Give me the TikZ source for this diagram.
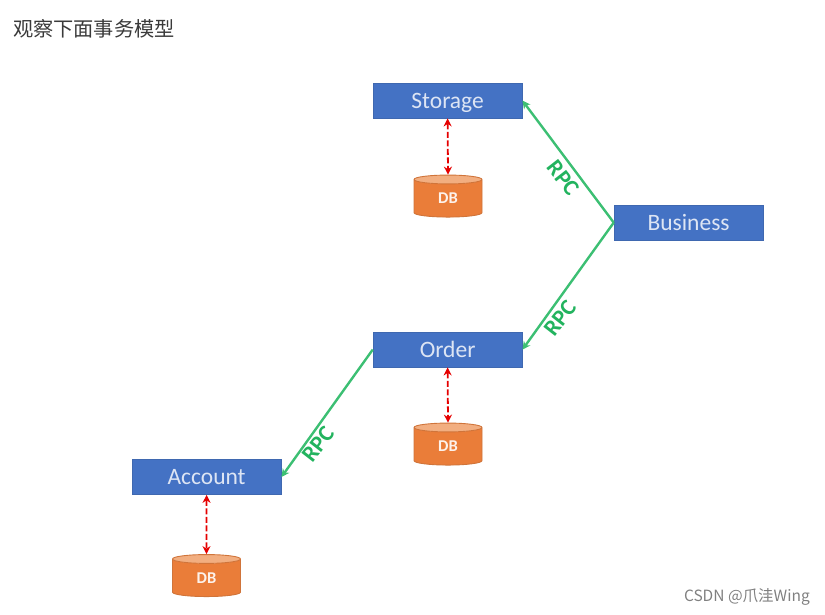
\documentclass[tikz,border=0pt]{standalone}
\usepackage{fontspec}
\setmainfont{Carlito}
\newfontfamily\cjk{Noto Sans CJK SC}
\usetikzlibrary{shapes.geometric,arrows.meta}
\definecolor{boxblue}{HTML}{4472C4}
\definecolor{boxedge}{HTML}{3F68B0}
\definecolor{dborange}{HTML}{EA7D39}
\definecolor{dbtop}{HTML}{F2AE80}
\definecolor{dbedge}{HTML}{D0743A}
\definecolor{rpcgreen}{HTML}{3CBF73}
\definecolor{rpctext}{HTML}{22B35E}
\definecolor{titlegray}{HTML}{3A3A3A}
\tikzset{
  svc/.style={rectangle,draw=boxedge,line width=0.7pt,fill=boxblue,minimum width=149pt,minimum height=35pt,inner sep=0pt,text height=15pt,text depth=0pt,text=white!82!boxblue,font=\fontsize{23.5}{25}\selectfont},
  db/.style={cylinder,shape border rotate=90,aspect=0.45,draw=dbedge,line width=0.9pt,cylinder uses custom fill,cylinder body fill=dborange,cylinder end fill=dbtop,minimum width=68pt,minimum height=42pt,inner sep=0pt,text=white!90!dborange,font=\bfseries\fontsize{16.5}{18}\selectfont},
  rpc/.style={draw=rpcgreen,line width=2.4pt,-{Stealth[length=8pt,width=8pt]}},
  store/.style={draw=red!90!black,line width=1.8pt,dash pattern=on 6pt off 2.5pt,{Stealth[length=8pt,width=8pt]}-{Stealth[length=8pt,width=8pt]}},
  rpclabel/.style={inner sep=0pt,text=rpctext,font=\bfseries\fontsize{23}{25}\selectfont},
}
\begin{document}
\begin{tikzpicture}[x=1pt,y=-1pt]
\useasboundingbox (0,0) rectangle (825,615);
\node[anchor=west,inner sep=0pt,text=titlegray,font=\cjk\fontsize{20.2}{22}\selectfont] (title) at (13,29) {观察下面事务模型};
\node[svc] (storage) at (447.6,100.6) {Storage};
\node[svc] (business) at (688.6,222.6) {Business};
\node[svc] (order) at (447.6,349.6) {Order};
\node[svc] (account) at (206.6,477) {Account};
\node[db] (db1) at (448,198.5) {DB};
\node[db] (db2) at (448,446.5) {DB};
\node[db] (db3) at (206.5,578) {DB};
\draw[rpc] (business.west) -- (storage.east);
\draw[rpc] (business.west) -- (order.east);
\draw[rpc] (order.west) -- (account.east);
\draw[store] (storage.south) -- (db1.north);
\draw[store] (order.south) -- (db2.north);
\draw[store] (account.south) -- (db3.north);
\node[rpclabel,rotate=-52] (l1) at (563,178) {RPC};
\node[rpclabel,rotate=52] (l2) at (560,318) {RPC};
\node[rpclabel,rotate=52] (l3) at (318,444) {RPC};
\node[anchor=east,inner sep=0pt,text=black!50,font=\cjk\fontsize{15.5}{17}\selectfont] (mark) at (810,596.5) {CSDN @爪洼Wing};
\end{tikzpicture}
\end{document}
